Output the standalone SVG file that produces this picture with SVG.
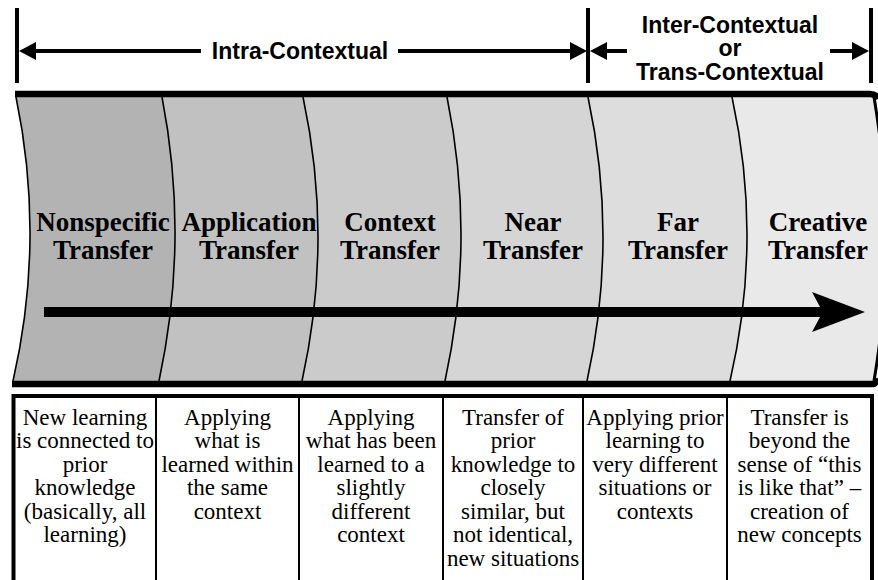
<svg xmlns="http://www.w3.org/2000/svg" width="878" height="580" viewBox="0 0 878 580">
<style>
.title{font-family:"Liberation Serif","Times New Roman",serif;font-weight:bold;font-size:27px;text-anchor:middle;fill:#000}
.desc{font-family:"Liberation Serif","Times New Roman",serif;font-size:23px;text-anchor:middle;fill:#000}
.head{font-family:"Liberation Sans",Arial,sans-serif;font-weight:bold;font-size:23px;text-anchor:middle;fill:#000}
.div{fill:none;stroke:#000;stroke-width:1.6}
.cell{fill:none;stroke:#000;stroke-width:2}
.dim{stroke:#000;stroke-width:4;fill:none}
</style>
<rect width="878" height="580" fill="#fff"/>

<g id="column-1">
<path d="M16,97 Q45.5,239 13,381 L159,381 Q189.5,239 162,97 Z" fill="#b3b3b3"/>
<text class="title" x="103" y="231">Nonspecific</text>
<text class="title" x="103" y="259">Transfer</text>
</g>
<g id="column-2">
<path d="M162,97 Q189.5,239 159,381 L302,381 Q333.5,239 303,97 Z" fill="#c1c1c1"/>
<text class="title" x="249" y="231">Application</text>
<text class="title" x="249" y="259">Transfer</text>
</g>
<g id="column-3">
<path d="M303,97 Q333.5,239 302,381 L445,381 Q476,239 447,97 Z" fill="#cbcbcb"/>
<text class="title" x="390" y="231">Context</text>
<text class="title" x="390" y="259">Transfer</text>
</g>
<g id="column-4">
<path d="M447,97 Q476,239 445,381 L587,381 Q618.5,239 588,97 Z" fill="#d5d5d5"/>
<text class="title" x="533" y="231">Near</text>
<text class="title" x="533" y="259">Transfer</text>
</g>
<g id="column-5">
<path d="M588,97 Q618.5,239 587,381 L730,381 Q763,239 732,97 Z" fill="#dddddd"/>
<text class="title" x="678" y="231">Far</text>
<text class="title" x="678" y="259">Transfer</text>
</g>
<g id="column-6">
<path d="M732,97 Q763,239 730,381 L874,381 Q898,239 874,97 Z" fill="#e9e9e9"/>
<text class="title" x="818" y="231">Creative</text>
<text class="title" x="818" y="259">Transfer</text>
</g>

<g id="band">
<path class="div" d="M16,97 Q45.5,239 13,381"/>
<path class="div" d="M162,97 Q189.5,239 159,381"/>
<path class="div" d="M303,97 Q333.5,239 302,381"/>
<path class="div" d="M447,97 Q476,239 445,381"/>
<path class="div" d="M588,97 Q618.5,239 587,381"/>
<path class="div" d="M732,97 Q763,239 730,381"/>
<path d="M874,97 Q898,239 874,381" fill="none" stroke="#000" stroke-width="3"/>
<path d="M15,94 H870 Q876,94 878,99" fill="none" stroke="#000" stroke-width="6.5"/>
<path d="M12,384 H873 Q876,384 877,378" fill="none" stroke="#000" stroke-width="6.5"/>
</g>

<g id="connectors">
<line class="dim" x1="17" y1="8" x2="17" y2="83"/>
<line class="dim" x1="588" y1="8" x2="588" y2="83"/>
<line class="dim" x1="871" y1="8" x2="871" y2="83"/>
<line class="dim" x1="33" y1="51" x2="201" y2="51"/>
<polygon points="19,51 36,42 36,60" fill="#000"/>
<line class="dim" x1="398" y1="51" x2="574" y2="51"/>
<polygon points="587,51 570,42 570,60" fill="#000"/>
<line class="dim" x1="604" y1="51" x2="627" y2="51"/>
<polygon points="590,51 607,42 607,60" fill="#000"/>
<line class="dim" x1="830" y1="51" x2="855" y2="51"/>
<polygon points="869,51 852,42 852,60" fill="#000"/>
<path d="M44,307 H820 L812,292 L865,312 L812,332 L820,317 H44 Z" fill="#000"/>
</g>

<g id="labels">
<text class="head" x="300" y="59">Intra-Contextual</text>
<text class="head" x="730" y="33">Inter-Contextual</text>
<text class="head" x="730" y="56">or</text>
<text class="head" x="730" y="80">Trans-Contextual</text>
</g>

<g id="table">
<rect x="13.5" y="396" width="858.5" height="200" fill="#fff" stroke="#000" stroke-width="4"/>
<line class="cell" x1="156" y1="396" x2="156" y2="580"/>
<line class="cell" x1="299" y1="396" x2="299" y2="580"/>
<line class="cell" x1="443" y1="396" x2="443" y2="580"/>
<line class="cell" x1="583" y1="396" x2="583" y2="580"/>
<line class="cell" x1="727" y1="396" x2="727" y2="580"/>
</g>

<g id="desc-1">
<text class="desc" x="85" y="424.5">New learning</text>
<text class="desc" x="85" y="448">is connected to</text>
<text class="desc" x="85" y="471.5">prior</text>
<text class="desc" x="85" y="495">knowledge</text>
<text class="desc" x="85" y="518.5">(basically, all</text>
<text class="desc" x="85" y="542">learning)</text>
</g>
<g id="desc-2">
<text class="desc" x="227.5" y="424.5">Applying</text>
<text class="desc" x="227.5" y="448">what is</text>
<text class="desc" x="227.5" y="471.5">learned within</text>
<text class="desc" x="227.5" y="495">the same</text>
<text class="desc" x="227.5" y="518.5">context</text>
</g>
<g id="desc-3">
<text class="desc" x="371" y="424.5">Applying</text>
<text class="desc" x="371" y="448">what has been</text>
<text class="desc" x="371" y="471.5">learned to a</text>
<text class="desc" x="371" y="495">slightly</text>
<text class="desc" x="371" y="518.5">different</text>
<text class="desc" x="371" y="542">context</text>
</g>
<g id="desc-4">
<text class="desc" x="513" y="424.5">Transfer of</text>
<text class="desc" x="513" y="448">prior</text>
<text class="desc" x="513" y="471.5">knowledge to</text>
<text class="desc" x="513" y="495">closely</text>
<text class="desc" x="513" y="518.5">similar, but</text>
<text class="desc" x="513" y="542">not identical,</text>
<text class="desc" x="513" y="565.5">new situations</text>
</g>
<g id="desc-5">
<text class="desc" x="655" y="424.5">Applying prior</text>
<text class="desc" x="655" y="448">learning to</text>
<text class="desc" x="655" y="471.5">very different</text>
<text class="desc" x="655" y="495">situations or</text>
<text class="desc" x="655" y="518.5">contexts</text>
</g>
<g id="desc-6">
<text class="desc" x="799.5" y="424.5">Transfer is</text>
<text class="desc" x="799.5" y="448">beyond the</text>
<text class="desc" x="799.5" y="471.5">sense of “this</text>
<text class="desc" x="799.5" y="495">is like that” –</text>
<text class="desc" x="799.5" y="518.5">creation of</text>
<text class="desc" x="799.5" y="542">new concepts</text>
</g>
</svg>
